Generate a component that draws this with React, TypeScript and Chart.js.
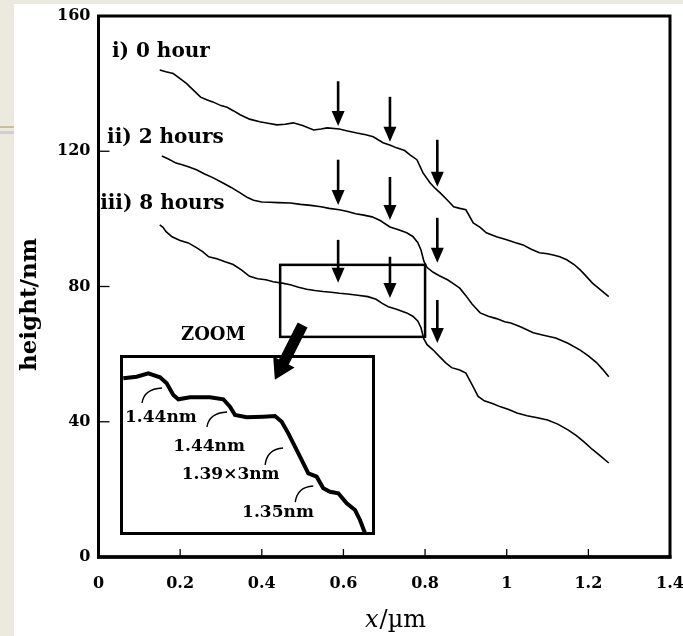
import React, { useEffect, useRef } from "react";
import { Chart, registerables } from "chart.js";
Chart.register(...registerables);

// ---------- data (x in µm, height in nm) ----------
const xTicks = [0, 0.2, 0.4, 0.6, 0.8, 1, 1.2, 1.4];
const yTicks = [0, 40, 80, 120, 160];

const hour0: [number, number][] = [
  [0.15, 144], [0.165, 143.5], [0.183, 143], [0.2, 141.5], [0.216, 140], [0.233, 138], [0.25, 136],
  [0.265, 135.2], [0.28, 134.6], [0.3, 133.5], [0.315, 133], [0.33, 132], [0.347, 130.8], [0.37, 129.5],
  [0.395, 128.7], [0.415, 128.3], [0.437, 127.8], [0.457, 128], [0.477, 128.4], [0.5, 127.6], [0.527, 126.3],
  [0.545, 126.6], [0.56, 126.9], [0.59, 126.6], [0.61, 126], [0.633, 125.4], [0.655, 124.9], [0.673, 124.3],
  [0.697, 122.5], [0.715, 121.8], [0.73, 121], [0.75, 120.2], [0.763, 118.9], [0.78, 117.5], [0.795, 113.6],
  [0.812, 110.7], [0.825, 109], [0.837, 107.7], [0.855, 105.5], [0.87, 103.6], [0.885, 103.1], [0.9, 102.7],
  [0.918, 98.8], [0.935, 97.5], [0.95, 95.9], [0.975, 94.7], [1.0, 93.8], [1.02, 93], [1.04, 92.3],
  [1.06, 91], [1.08, 90], [1.1, 89.7], [1.114, 89.3], [1.13, 88.8], [1.147, 87.9], [1.165, 86.5],
  [1.18, 84.9], [1.195, 83], [1.21, 81], [1.23, 79], [1.25, 77],
];
const hour2: [number, number][] = [
  [0.155, 118.6], [0.17, 117.8], [0.19, 116.5], [0.205, 116], [0.22, 115.4], [0.24, 114.5], [0.26, 113.3],
  [0.28, 112.2], [0.305, 110.6], [0.325, 109.3], [0.347, 107.7], [0.365, 106.3], [0.38, 105.5], [0.4, 105],
  [0.42, 104.9], [0.44, 104.8], [0.47, 104.7], [0.495, 104.3], [0.52, 104], [0.545, 103.6], [0.565, 103.1],
  [0.59, 102.7], [0.61, 102.2], [0.63, 101.5], [0.65, 101.1], [0.67, 100.6], [0.69, 99.5], [0.714, 97.6],
  [0.735, 96.8], [0.755, 95.9], [0.77, 94.8], [0.782, 93], [0.79, 90.8], [0.797, 87.5], [0.805, 85.6],
  [0.82, 84.2], [0.835, 83.2], [0.855, 82], [0.87, 80.8], [0.885, 79.5], [0.9, 77.3], [0.915, 74.8],
  [0.935, 72.2], [0.955, 71.2], [0.975, 70.5], [0.995, 69.6], [1.01, 69.2], [1.035, 68], [1.065, 66.3],
  [1.09, 65.6], [1.12, 64.8], [1.15, 63.2], [1.18, 61.2], [1.2, 59.5], [1.22, 57.5], [1.235, 55.5], [1.25, 53.3],
];
const hour8: [number, number][] = [
  [0.15, 98.2], [0.158, 97.5], [0.165, 96.3], [0.18, 94.7], [0.2, 93.6], [0.22, 92.9], [0.24, 91.5],
  [0.255, 90.3], [0.27, 88.8], [0.29, 88.2], [0.31, 87.3], [0.33, 86.5], [0.35, 84.9], [0.37, 83],
  [0.39, 82.3], [0.41, 82], [0.428, 81.4], [0.45, 81], [0.47, 80.5], [0.49, 79.8], [0.51, 79.2],
  [0.53, 78.8], [0.55, 78.5], [0.57, 78.3], [0.59, 78], [0.61, 77.8], [0.63, 77.5], [0.66, 77],
  [0.68, 76.2], [0.695, 75], [0.71, 74], [0.73, 73.3], [0.755, 72.2], [0.77, 71.2], [0.782, 69.8],
  [0.79, 67.8], [0.797, 64.5], [0.805, 62.8], [0.82, 61.2], [0.836, 59.2], [0.85, 57.5], [0.865, 56],
  [0.885, 55.3], [0.9, 54.4], [0.915, 51], [0.93, 47.5], [0.945, 46.2], [0.965, 45.4], [0.985, 44.4],
  [1.005, 43.6], [1.025, 42.6], [1.05, 41.8], [1.075, 41.2], [1.1, 40.5], [1.125, 39.3], [1.15, 37.6],
  [1.17, 36], [1.19, 34], [1.21, 31.8], [1.23, 29.8], [1.25, 27.8],
];

const seriesLabels = ["i) 0 hour", "ii) 2 hours", "iii) 8 hours"];
const seriesLabelX = [0.033, 0.021, 0.004];
const seriesLabelY = [149.4, 124, 104.4];

// step-marker arrows: one x per column, tail / tip heights per curve row
const arrowX = [0.587, 0.714, 0.83];
const arrowTail = [[140.7, 136.1, 123.4], [117.5, 112.4, 100.3], [93.8, 88.8, 76.0]];
const arrowTip = [[127.5, 122.8, 109.5], [104.1, 99.7, 87.0], [81.1, 76.6, 63.3]];

const zoomBoxX = [0.445, 0.8];
const zoomBoxY = [65.1, 86.4];
const zoomArrowFrom = [0.5, 68.6];
const zoomArrowTo = [0.432, 52.4];
const zoomText = "ZOOM";
const zoomTextAt = [0.281, 65.7];

// inset (zoomed profile), same units as zoom box
const insetProfile: [number, number][] = [
  [0.4496, 83.64], [0.4682, 83.83], [0.4844, 84.23], [0.5007, 83.76], [0.51, 83.05], [0.5192, 81.67],
  [0.5262, 81.16], [0.5425, 81.39], [0.5703, 81.39], [0.5888, 81.16], [0.5981, 80.28], [0.6051, 79.3],
  [0.6214, 79.03], [0.6445, 79.1], [0.6608, 79.18], [0.6701, 78.51], [0.6793, 77.13], [0.6886, 75.55],
  [0.698, 73.97], [0.7072, 72.4], [0.7188, 72.0], [0.728, 70.63], [0.7374, 70.22], [0.7489, 70.04],
  [0.7606, 68.85], [0.7722, 68.06], [0.7791, 66.88], [0.7861, 65.31],
];
const insetLabels = ["1.44nm", "1.44nm", "1.39×3nm", "1.35nm"];
const insetLabelX = [0.452, 0.519, 0.531, 0.615];
const insetLabelY = [78.95, 75.6, 72.2, 67.8];
const leaderFrom: [number, number][] = [[0.4756, 80.72], [0.566, 77.88], [0.647, 73.39], [0.689, 69.0]];
const leaderTo: [number, number][] = [[0.5035, 82.5], [0.594, 79.66], [0.672, 75.4], [0.714, 70.9]];

const FONT = "'DejaVu Serif', 'Liberation Serif', serif";

function fmt(v: number) {
  return String(Number(v.toFixed(1)));
}

function downArrow(ctx: CanvasRenderingContext2D, x: number, y1: number, y2: number) {
  const head = 15, hw = 6.5;
  ctx.beginPath();
  ctx.moveTo(x, y1);
  ctx.lineTo(x, y2 - head + 2);
  ctx.lineWidth = 2.6;
  ctx.stroke();
  ctx.beginPath();
  ctx.moveTo(x - hw, y2 - head);
  ctx.lineTo(x + hw, y2 - head);
  ctx.lineTo(x, y2);
  ctx.closePath();
  ctx.fill();
}

function fatArrow(ctx: CanvasRenderingContext2D, x1: number, y1: number, x2: number, y2: number) {
  const dx = x2 - x1, dy = y2 - y1;
  const len = Math.hypot(dx, dy);
  const ux = dx / len, uy = dy / len;
  const px = -uy, py = ux;
  const sw = 5.5, hw = 12, hl = 20;
  const bx = x2 - ux * hl, by = y2 - uy * hl;
  ctx.beginPath();
  ctx.moveTo(x1 + px * sw, y1 + py * sw);
  ctx.lineTo(bx + px * sw, by + py * sw);
  ctx.lineTo(bx + px * hw, by + py * hw);
  ctx.lineTo(x2, y2);
  ctx.lineTo(bx - px * hw, by - py * hw);
  ctx.lineTo(bx - px * sw, by - py * sw);
  ctx.lineTo(x1 - px * sw, y1 - py * sw);
  ctx.closePath();
  ctx.fill();
}

const mainDecor = {
  id: "mainDecor",
  afterDraw(chart: any) {
    const { ctx, chartArea: a, scales } = chart;
    const sx = scales.x, sy = scales.y;
    ctx.save();
    ctx.strokeStyle = "#000";
    ctx.fillStyle = "#000";
    // inner ticks
    ctx.lineWidth = 1.3;
    xTicks.slice(1, -1).forEach((v) => {
      const px = sx.getPixelForValue(v);
      ctx.beginPath();
      ctx.moveTo(px, a.bottom);
      ctx.lineTo(px, a.bottom - 8);
      ctx.stroke();
    });
    yTicks.slice(1, -1).forEach((v) => {
      const py = sy.getPixelForValue(v);
      ctx.beginPath();
      ctx.moveTo(a.left, py);
      ctx.lineTo(a.left + 11, py);
      ctx.stroke();
    });
    // frame
    ctx.lineWidth = 3;
    ctx.strokeRect(a.left, a.top, a.right - a.left, a.bottom - a.top);
    ctx.lineWidth = 3.5;
    ctx.beginPath();
    ctx.moveTo(a.left - 1.5, a.bottom);
    ctx.lineTo(a.right + 1.5, a.bottom);
    ctx.stroke();

    // arrows
    arrowTail.forEach((row, r) => {
      row.forEach((t, c) => {
        downArrow(ctx, sx.getPixelForValue(arrowX[c]), sy.getPixelForValue(t), sy.getPixelForValue(arrowTip[r][c]));
      });
    });

    // zoom box
    ctx.lineWidth = 2.5;
    const bx1 = sx.getPixelForValue(zoomBoxX[0]), bx2 = sx.getPixelForValue(zoomBoxX[1]);
    const by1 = sy.getPixelForValue(zoomBoxY[1]), by2 = sy.getPixelForValue(zoomBoxY[0]);
    ctx.strokeRect(bx1, by1, bx2 - bx1, by2 - by1);

    // fat arrow
    fatArrow(ctx, sx.getPixelForValue(zoomArrowFrom[0]), sy.getPixelForValue(zoomArrowFrom[1]),
      sx.getPixelForValue(zoomArrowTo[0]), sy.getPixelForValue(zoomArrowTo[1]));

    // ZOOM text
    ctx.font = `bold 18px ${FONT}`;
    ctx.textAlign = "center";
    ctx.textBaseline = "middle";
    ctx.fillText(zoomText, sx.getPixelForValue(zoomTextAt[0]), sy.getPixelForValue(zoomTextAt[1]));

    // series labels
    ctx.font = `bold 20px ${FONT}`;
    ctx.textAlign = "left";
    seriesLabels.forEach((t, i) => {
      ctx.fillText(t, sx.getPixelForValue(seriesLabelX[i]), sy.getPixelForValue(seriesLabelY[i]));
    });

    // y title
    ctx.save();
    ctx.translate(30, (a.top + a.bottom) / 2 + 18);
    ctx.rotate(-Math.PI / 2);
    ctx.font = `bold 23px ${FONT}`;
    ctx.textAlign = "center";
    ctx.fillText("height/nm", 0, 0);
    ctx.restore();

    // x title
    ctx.textBaseline = "middle";
    ctx.textAlign = "left";
    const f1 = `italic 24px ${FONT}`, f2 = `24px ${FONT}`;
    ctx.font = f1;
    const w1 = ctx.measureText("x").width;
    ctx.font = f2;
    const w2 = ctx.measureText("/µm").width;
    const cx = 395 - (w1 + w2) / 2;
    ctx.font = f1;
    ctx.fillText("x", cx, 621);
    ctx.font = f2;
    ctx.fillText("/µm", cx + w1 + 1, 621);
    ctx.restore();
  },
};

const insetDecor = {
  id: "insetDecor",
  afterDraw(chart: any) {
    const { ctx, scales, width, height } = chart;
    const sx = scales.x, sy = scales.y;
    ctx.save();
    ctx.strokeStyle = "#000";
    ctx.fillStyle = "#000";
    ctx.lineWidth = 3;
    ctx.strokeRect(1.5, 1.5, width - 3, height - 3);
    ctx.lineWidth = 1.4;
    leaderFrom.forEach((f, i) => {
      const x1 = sx.getPixelForValue(f[0]), y1 = sy.getPixelForValue(f[1]);
      const x2 = sx.getPixelForValue(leaderTo[i][0]), y2 = sy.getPixelForValue(leaderTo[i][1]);
      ctx.beginPath();
      ctx.moveTo(x1, y1);
      ctx.quadraticCurveTo(x1 + 2, y2 + 1, x2, y2);
      ctx.stroke();
    });
    ctx.font = `bold 17px ${FONT}`;
    ctx.textAlign = "left";
    ctx.textBaseline = "middle";
    insetLabels.forEach((t, i) => {
      ctx.fillText(t, sx.getPixelForValue(insetLabelX[i]), sy.getPixelForValue(insetLabelY[i]));
    });
    ctx.restore();
  },
};

export default function App() {
  const mainRef = useRef<HTMLCanvasElement>(null);
  const insetRef = useRef<HTMLCanvasElement>(null);

  useEffect(() => {
    const line = (pts: [number, number][]) => ({
      data: pts.map(([x, y]) => ({ x, y })),
      borderColor: "#000",
      borderWidth: 1.6,
      pointRadius: 0,
      tension: 0,
      fill: false,
    });
    const tickFont = { family: FONT, size: 16, weight: "bold" as const };
    const main = new Chart(mainRef.current!, {
      type: "line",
      data: { datasets: [line(hour0), line(hour2), line(hour8)] },
      options: {
        responsive: false,
        animation: false,
        events: [],
        layout: { padding: { left: 0, top: 16, right: 13, bottom: 0 } },
        plugins: { legend: { display: false }, tooltip: { enabled: false } },
        scales: {
          x: {
            type: "linear",
            min: 0,
            max: 1.4,
            afterBuildTicks: (s: any) => { s.ticks = xTicks.map((v) => ({ value: v })); },
            afterFit: (s: any) => { s.height = 79; s.paddingLeft = 0; s.paddingRight = 0; },
            grid: { display: false, drawTicks: false },
            border: { display: false },
            ticks: { color: "#000", font: tickFont, padding: 17, maxRotation: 0, autoSkip: false, callback: (v: any) => fmt(Number(v)) },
          },
          y: {
            type: "linear",
            min: 0,
            max: 160,
            afterBuildTicks: (s: any) => { s.ticks = yTicks.map((v) => ({ value: v })); },
            afterFit: (s: any) => { s.width = 98.5; s.paddingTop = 0; s.paddingBottom = 0; },
            grid: { display: false, drawTicks: false },
            border: { display: false },
            ticks: { color: "#000", font: tickFont, padding: 8, callback: (v: any) => fmt(Number(v)) },
          },
        },
      },
      plugins: [mainDecor],
    });

    const inset = new Chart(insetRef.current!, {
      type: "line",
      data: {
        datasets: [{
          data: insetProfile.map(([x, y]) => ({ x, y })),
          borderColor: "#000",
          borderWidth: 4,
          pointRadius: 0,
          tension: 0,
          fill: false,
        }],
      },
      options: {
        responsive: false,
        animation: false,
        events: [],
        layout: { padding: 0 },
        plugins: { legend: { display: false }, tooltip: { enabled: false } },
        scales: {
          x: { type: "linear", min: zoomBoxX[0], max: zoomBoxX[1], display: false },
          y: { type: "linear", min: zoomBoxY[0], max: zoomBoxY[1], display: false },
        },
      },
      plugins: [insetDecor],
    });

    return () => {
      main.destroy();
      inset.destroy();
    };
  }, []);

  return (
    <div style={{ position: "fixed", left: 0, top: 0, width: 683, height: 636, background: "#ece9df", overflow: "hidden" }}>
      <div style={{ position: "absolute", left: 0, top: 126, width: 14, height: 2, background: "#c8bf98" }} />
      <div style={{ position: "absolute", left: 0, top: 131, width: 14, height: 3, background: "#cfcfcf" }} />
      <div style={{ position: "absolute", left: 14, top: 4, width: 669, height: 632, background: "#fff" }} />
      <div style={{ position: "absolute", left: 120, top: 355, width: 255, height: 180, background: "#fff" }}>
        <canvas ref={insetRef} width={255} height={180} style={{ display: "block" }} />
      </div>
      <canvas ref={mainRef} width={683} height={636} style={{ position: "absolute", left: 0, top: 0, display: "block" }} />
    </div>
  );
}
